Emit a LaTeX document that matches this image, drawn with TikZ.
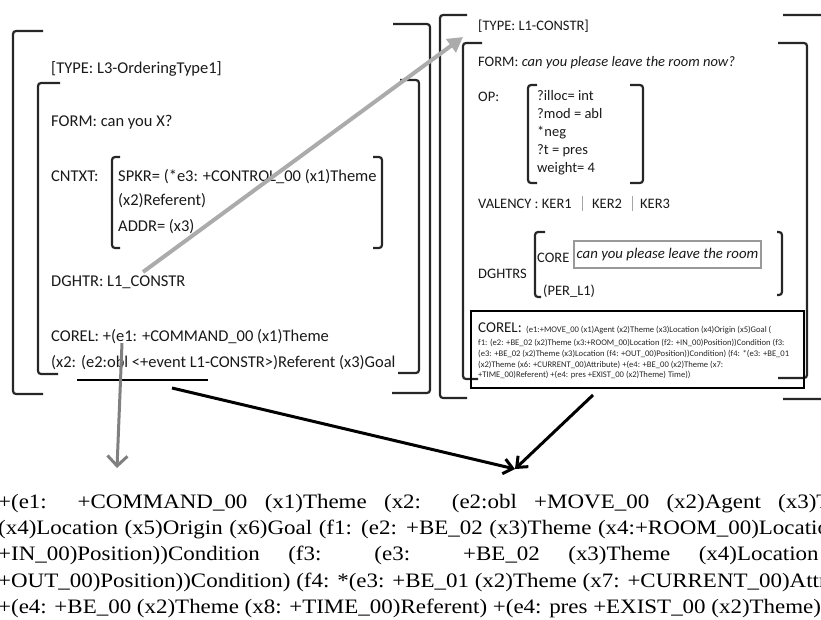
\documentclass[tikz,border=0pt]{standalone}
\usepackage{fontspec}
\setmainfont{Carlito}
\newfontfamily\paperserif[FakeStretch=1.12]{Liberation Serif}
\usetikzlibrary{arrows.meta}

\begin{document}
\begin{tikzpicture}[x=1pt,y=-1pt,
  brk/.style={line width=2.2pt, rounded corners=3pt, draw=black!85},
  lt/.style={anchor=base west, inner sep=0pt, font=\fontsize{16.5}{19}\selectfont, text=black!90},
  rt/.style={anchor=base west, inner sep=0pt, font=\fontsize{14.5}{17}\selectfont, text=black!90},
  tinytxt/.style={anchor=base west, inner sep=0pt, font=\fontsize{8.6}{10}\selectfont, text=black!85},
  btm/.style={anchor=base west, inner sep=0pt, font=\paperserif\fontsize{20.5}{26}\selectfont, text=black},
  sep/.style={draw=black!35, line width=0.8pt},
  grayarrow/.style={draw=black!33, line width=4pt, -{Triangle[length=15pt,width=16pt]}},
  downarrow/.style={draw=black!50, line width=3pt, -{Straight Barb[length=10pt,width=20pt]}},
  blackarrow/.style={draw=black, line width=3pt, -{Straight Barb[length=9pt,width=15pt]}},
]
\useasboundingbox (0,0) rectangle (821,619);
\clip (0,0) rectangle (821,619);

% ---------- left frame: L3-OrderingType1 ----------
\draw[brk] (43,31) -- (13,31) -- (13,394) -- (43,394);
\draw[brk] (393,24) -- (430,24) -- (430,393) -- (392,393);
\draw[brk] (60,83) -- (38,83) -- (38,374) -- (58,374);
\draw[brk] (400,80) -- (419,80) -- (419,373) -- (398,373);

\node[lt] (ltype) at (51,73) {[TYPE: L3-OrderingType1]};
\node[lt] (lform) at (51,126) {FORM: can you X?};
\node[lt] (lcntxt) at (51,181) {CNTXT:};
\node[lt] (lspkr) at (118,181) {SPKR= (*e3: +CONTROL\_00 (x1)Theme};
\node[lt] (lref) at (118,205) {(x2)Referent)};
\node[lt] (laddr) at (118,231) {ADDR= (x3)};
\draw[brk] (120,157) -- (112,157) -- (112,248) -- (120,248);
\draw[brk] (373,157) -- (382,157) -- (382,248) -- (373,248);
\node[lt] (ldghtr) at (51,286) {DGHTR: L1\_CONSTR};
\node[lt] (lcorel) at (51,341) {COREL: +(e1: +COMMAND\_00 (x1)Theme};
\node[lt] (lcorel2) at (51,367) {(x2: (e2:obl <+event L1-CONSTR>)Referent (x3)Goal};

% underline of the embedded event
\coordinate (ulA) at (77,380);
\coordinate (ulB) at (208,380);
\draw[line width=2.6pt] (ulA) -- (ulB);

% ---------- right frame: L1-CONSTR ----------
\draw[brk] (467,15) -- (440,15) -- (440,398) -- (467,398);
\draw[brk] (783,15) -- (832,15) -- (832,399) -- (783,399);
\draw[brk] (482,43) -- (463,43) -- (463,379) -- (478,379);
\draw[brk] (778,43) -- (807,43) -- (807,378) -- (778,378);

\node[rt] (rtype) at (478,30) {[TYPE: L1-CONSTR]};
\node[rt] (rform) at (478,66) {FORM: \textit{can you please leave the room now?}};
\node[rt] (rop) at (478,101) {OP:};
\node[rt] (op1) at (537,100) {?illoc= int};
\node[rt] (op2) at (537,118) {?mod = abl};
\node[rt] (op3) at (537,136) {*neg};
\node[rt] (op4) at (537,154) {?t = pres};
\node[rt] (op5) at (537,172) {weight= 4};
\draw[brk] (537,85) -- (528,85) -- (528,183) -- (537,183);
\draw[brk] (630,85) -- (643,85) -- (643,183) -- (630,183);

\node[rt] (val) at (478,208) {VALENCY : KER1};
\node[rt] (ker2) at (592,208) {KER2};
\node[rt] (ker3) at (640,208) {KER3};
\draw[sep] (582,196) -- (582,211);
\draw[sep] (632,196) -- (632,211);

\node[rt] (dghtrs) at (478,278) {DGHTRS};
\node[rt] (core) at (537,262) {CORE};
\node[rt] (per) at (543,295) {(PER\_L1)};
\draw[brk] (545,232) -- (535,232) -- (535,297) -- (541,297);
\draw[brk] (777,232) -- (782,232) -- (782,295) -- (777,295);
\node[draw=black!40, line width=2pt, anchor=north west, minimum width=187pt,
      minimum height=27pt, inner sep=0pt, font=\fontsize{14.8}{17}\selectfont\itshape,
      text=black!90] (corebox) at (573,240) {can you please leave the room};

\node[draw=black, line width=2.4pt, anchor=north west, minimum width=333pt,
      minimum height=77pt, inner sep=0pt] (corelbox) at (470,310) {};
\node[anchor=base west, inner sep=0pt, font=\fontsize{15}{18}\selectfont, text=black!90]
      (rcorel) at (478,332) {COREL:};
\node[tinytxt] (rc1) at (526,332) {(e1:+MOVE\_00 (x1)Agent (x2)Theme (x3)Location (x4)Origin (x5)Goal (};
\node[tinytxt] (rc2) at (478,345) {f1: (e2: +BE\_02 (x2)Theme (x3:+ROOM\_00)Location (f2: +IN\_00)Position))Condition (f3:};
\node[tinytxt] (rc3) at (478,356) {(e3: +BE\_02 (x2)Theme (x3)Location (f4: +OUT\_00)Position))Condition) (f4: *(e3: +BE\_01};
\node[tinytxt] (rc4) at (478,367) {(x2)Theme (x6: +CURRENT\_00)Attribute) +(e4: +BE\_00 (x2)Theme (x7:};
\node[tinytxt] (rc5) at (478,377) {+TIME\_00)Referent) +(e4: pres +EXIST\_00 (x2)Theme) Time))};

% ---------- expanded COREL ----------
\node[btm] (b1) at (-2,508) {\makebox[882pt][s]{+(e1: +COMMAND\_00 (x1)Theme (x2: (e2:obl +MOVE\_00 (x2)Agent (x3)Theme}};
\node[btm] (b2) at (-2,534) {\makebox[882pt][s]{(x4)Location (x5)Origin (x6)Goal (f1: (e2: +BE\_02 (x3)Theme (x4:+ROOM\_00)Location (f2:}};
\node[btm] (b3) at (-2,560) {\makebox[882pt][s]{+IN\_00)Position))Condition (f3: (e3: +BE\_02 (x3)Theme (x4)Location (f4:}};
\node[btm] (b4) at (-2,587) {\makebox[882pt][s]{+OUT\_00)Position))Condition) (f4: *(e3: +BE\_01 (x2)Theme (x7: +CURRENT\_00)Attribute)}};
\node[btm] (b5) at (-2,613) {+(e4: +BE\_00 (x2)Theme (x8: +TIME\_00)Referent) +(e4: pres +EXIST\_00 (x2)Theme) Time))};

% ---------- connectors ----------
\coordinate (dgtail) at (143,272);
\coordinate (typetip) at (463,37);
\draw[grayarrow] (dgtail) -- (typetip);

\coordinate (obltail) at (122,343);
\coordinate (obltip) at (117,468);
\draw[downarrow] (obltail) -- (obltip);

\coordinate (ultail) at (172,388);
\coordinate (meet) at (515,469);
\coordinate (boxtail) at (593,395);
\draw[blackarrow] (ultail) -- (meet);
\draw[blackarrow] (boxtail) -- (meet);
\end{tikzpicture}
\end{document}
